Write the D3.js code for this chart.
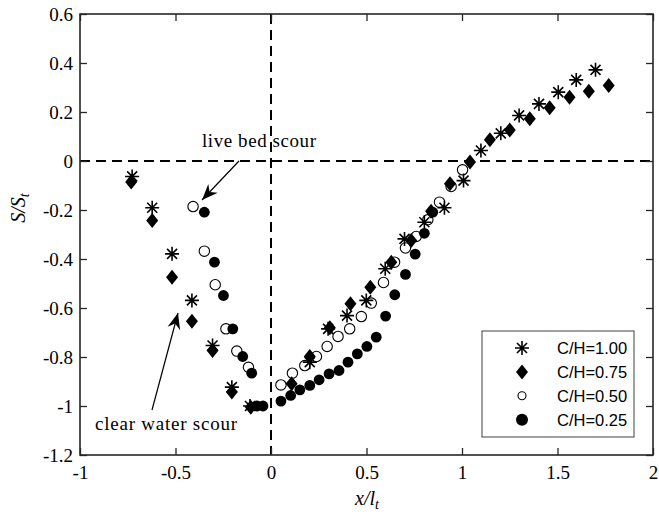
<!DOCTYPE html>
<html lang="en">
<head>
<meta charset="utf-8">
<title>S/St against x/lt</title>
<script src="https://d3js.org/d3.v7.min.js"></script>
<style>
  body { margin: 0; background: #fff; }
  svg text { font-family: 'Liberation Serif', serif; }
</style>
</head>
<body>
<script>
// C/H = 1.00 (asterisks)
var x100 = [-0.727, -0.622, -0.518, -0.414, -0.306, -0.205, -0.11, 0.203, 0.299, 0.398, 0.499, 0.598, 0.699, 0.803, 0.908, 1.008, 1.099, 1.203, 1.299, 1.403, 1.504, 1.598, 1.699];
var y100 = [-0.063, -0.191, -0.379, -0.569, -0.753, -0.923, -1.0, -0.821, -0.685, -0.631, -0.569, -0.44, -0.318, -0.25, -0.191, -0.08, 0.043, 0.113, 0.186, 0.233, 0.281, 0.331, 0.372];
// C/H = 0.75 (diamonds)
var x075 = [-0.732, -0.622, -0.518, -0.414, -0.306, -0.205, -0.106, 0.108, 0.203, 0.308, 0.416, 0.520, 0.630, 0.734, 0.838, 0.937, 1.042, 1.146, 1.250, 1.355, 1.459, 1.563, 1.664, 1.768];
var y075 = [-0.086, -0.243, -0.474, -0.654, -0.773, -0.943, -1.005, -0.909, -0.798, -0.681, -0.583, -0.515, -0.413, -0.324, -0.205, -0.093, -0.004, 0.087, 0.127, 0.172, 0.217, 0.260, 0.285, 0.308];
// C/H = 0.50 (open circles)
var x050 = [-0.408, -0.349, -0.292, -0.236, -0.179, -0.118, 0.052, 0.112, 0.177, 0.238, 0.294, 0.351, 0.412, 0.473, 0.525, 0.589, 0.647, 0.704, 0.760, 0.821, 0.882, 0.943, 1.003];
var y050 = [-0.186, -0.368, -0.505, -0.685, -0.776, -0.842, -0.914, -0.866, -0.835, -0.798, -0.757, -0.716, -0.685, -0.635, -0.58, -0.496, -0.413, -0.355, -0.308, -0.24, -0.168, -0.104, -0.036];
// C/H = 0.25 (filled circles)
var x025 = [-0.349, -0.296, -0.249, -0.2, -0.148, -0.101, -0.073, -0.042, 0.052, 0.103, 0.151, 0.203, 0.252, 0.304, 0.356, 0.403, 0.452, 0.502, 0.551, 0.600, 0.648, 0.704, 0.755, 0.803, 0.847];
var y025 = [-0.209, -0.413, -0.549, -0.685, -0.798, -0.866, -1.0, -1.0, -0.98, -0.957, -0.934, -0.916, -0.893, -0.869, -0.855, -0.821, -0.787, -0.757, -0.719, -0.633, -0.546, -0.463, -0.38, -0.295, -0.209];

var seriesNames = ["C/H=1.00", "C/H=0.75", "C/H=0.50", "C/H=0.25"];
var xTicks = [-1, -0.5, 0, 0.5, 1, 1.5, 2];
var xTickLabels = ["-1", "-0.5", "0", "0.5", "1", "1.5", "2"];
var yTicks = [-1.2, -1, -0.8, -0.6, -0.4, -0.2, 0, 0.2, 0.4, 0.6];
var yTickLabels = ["-1.2", "-1", "-0.8", "-0.6", "-0.4", "-0.2", "0", "0.2", "0.4", "0.6"];

var width = 659, height = 517;
var mLeft = 80, mRight = 653, mTop = 14, mBottom = 455;
var serif = "'Liberation Serif', serif";

var x = d3.scaleLinear().domain([-1, 2]).range([mLeft, mRight]);
var y = d3.scaleLinear().domain([-1.2, 0.6]).range([mBottom, mTop]);

var svg = d3.select("body").append("svg")
    .attr("width", width)
    .attr("height", height);

// marker shapes
var shapes = [
    { path: "M-7,0H7M0,-7V7M-5,-5L5,5M-5,5L5,-5", fill: "none", stroke: "#000", sw: 1.6 },
    { path: "M0,-7.5L6,0L0,7.5L-6,0Z", fill: "#000", stroke: "none", sw: 0 },
    { circle: 5.2, fill: "none", stroke: "#000", sw: 1.1 },
    { circle: 5.4, fill: "#000", stroke: "none", sw: 0 }
];

function drawMarker(g, k, r) {
    var s = shapes[k];
    if (s.circle) {
        g.append("circle").attr("r", r || s.circle)
            .attr("fill", s.fill).attr("stroke", s.stroke).attr("stroke-width", s.sw);
    } else {
        g.append("path").attr("d", s.path)
            .attr("fill", s.fill).attr("stroke", s.stroke).attr("stroke-width", s.sw);
    }
}

// dashed reference lines
svg.append("line")
    .attr("x1", x(0)).attr("x2", x(0)).attr("y1", mTop).attr("y2", mBottom)
    .attr("stroke", "#000").attr("stroke-width", 2).attr("stroke-dasharray", "10,6");
svg.append("line")
    .attr("x1", mLeft).attr("x2", mRight).attr("y1", y(0)).attr("y2", y(0))
    .attr("stroke", "#000").attr("stroke-width", 2).attr("stroke-dasharray", "10,6");

function styleAxis(g) {
    g.attr("font-family", null).attr("font-size", null);
    g.select(".domain").remove();
    g.selectAll(".tick line").attr("stroke", "#262626").attr("stroke-width", 1.3);
    g.selectAll(".tick text")
        .style("font-family", serif).style("font-size", "19px").attr("fill", "#000");
}

// axes (ticks inward, all four sides)
svg.append("g").attr("transform", "translate(0," + mBottom + ")")
    .call(d3.axisBottom(x).tickValues(xTicks).tickFormat(function(d, i) { return xTickLabels[i]; })
        .tickSize(-7).tickPadding(11))
    .call(styleAxis);
svg.append("g").attr("transform", "translate(0," + mTop + ")")
    .call(d3.axisTop(x).tickValues(xTicks).tickFormat("").tickSize(-7))
    .call(styleAxis);
svg.append("g").attr("transform", "translate(" + mLeft + ",0)")
    .call(d3.axisLeft(y).tickValues(yTicks).tickFormat(function(d, i) { return yTickLabels[i]; })
        .tickSize(-7).tickPadding(7))
    .call(styleAxis);
svg.append("g").attr("transform", "translate(" + mRight + ",0)")
    .call(d3.axisRight(y).tickValues(yTicks).tickFormat("").tickSize(-7))
    .call(styleAxis);

svg.append("rect")
    .attr("x", mLeft).attr("y", mTop)
    .attr("width", mRight - mLeft).attr("height", mBottom - mTop)
    .attr("fill", "none").attr("stroke", "#262626").attr("stroke-width", 1.6);

// data
var xs = [x100, x075, x050, x025];
var ys = [y100, y075, y050, y025];
xs.forEach(function(xv, k) {
    var pts = xv.map(function(v, i) { return [v, ys[k][i]]; });
    svg.append("g").selectAll("g")
        .data(pts).enter().append("g")
        .attr("transform", function(d) { return "translate(" + x(d[0]) + "," + y(d[1]) + ")"; })
        .each(function() { drawMarker(d3.select(this), k); });
});

// annotations
function arrow(x1, y1, x2, y2) {
    svg.append("line")
        .attr("x1", x1).attr("y1", y1).attr("x2", x2).attr("y2", y2)
        .attr("stroke", "#000").attr("stroke-width", 1.2);
    var a = Math.atan2(y2 - y1, x2 - x1) * 180 / Math.PI;
    svg.append("path")
        .attr("d", "M0,0L-16,-6.5L-11,0L-16,6.5Z")
        .attr("transform", "translate(" + x2 + "," + y2 + ") rotate(" + a + ")")
        .attr("fill", "#000");
}
arrow(239, 161, 202, 200);
arrow(152, 410, 178, 313);

svg.append("text").attr("x", 202).attr("y", 147)
    .style("font-family", serif).style("font-size", "19px")
    .attr("textLength", 114)
    .text("live bed scour");
svg.append("text").attr("x", 95).attr("y", 430)
    .style("font-family", serif).style("font-size", "19px")
    .attr("textLength", 142)
    .text("clear water scour");

// axis labels
var xl = svg.append("text")
    .attr("x", 367).attr("y", 505)
    .attr("text-anchor", "middle")
    .style("font-family", serif).style("font-size", "20px").style("font-style", "italic");
xl.append("tspan").text("x/l");
xl.append("tspan").attr("dy", 4).style("font-size", "14px").text("t");

var yl = svg.append("text")
    .attr("transform", "translate(25,208) rotate(-90)")
    .attr("text-anchor", "middle")
    .style("font-family", serif).style("font-size", "20px").style("font-style", "italic");
yl.append("tspan").text("S/S");
yl.append("tspan").attr("dy", 4).style("font-size", "14px").text("t");

// legend
var lg = svg.append("g");
lg.append("rect")
    .attr("x", 482).attr("y", 331).attr("width", 152).attr("height", 106)
    .attr("fill", "#fff").attr("stroke", "#404040").attr("stroke-width", 1);
var legendR = [null, null, 4, 6];
seriesNames.forEach(function(name, k) {
    var yy = 348 + k * 23.9;
    var m = lg.append("g").attr("transform", "translate(522," + yy + ")");
    drawMarker(m, k, legendR[k]);
    lg.append("text").attr("x", 557).attr("y", yy).attr("dy", "0.36em")
        .style("font-family", "'Liberation Sans', Arial, sans-serif").style("font-size", "16.5px")
        .text(name);
});
</script>
</body>
</html>
